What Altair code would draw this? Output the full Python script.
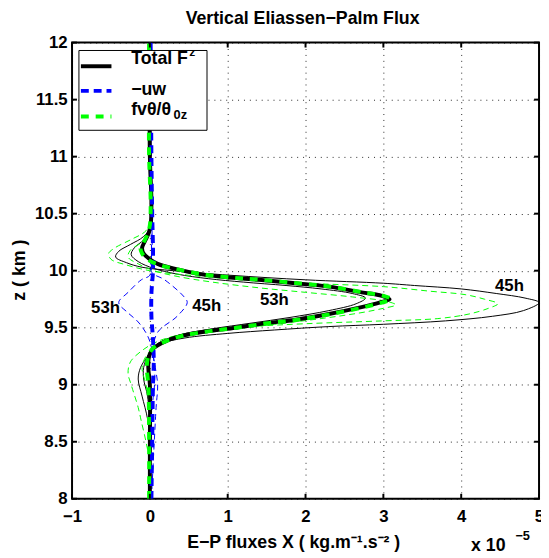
import altair as alt
import pandas as pd

W, H = 474, 463
FONT = "Liberation Sans"

# ---------------- data (x in units of 1e-5 kg m^-1 s^-2, z in km) ----------------
tot_z = [8.0, 8.5, 9.0, 9.15, 9.25, 9.32, 9.38, 9.43, 9.47, 9.50, 9.54, 9.57, 9.62, 9.68, 9.72, 9.75,
         9.78, 9.81, 9.86, 9.89, 9.92, 9.94, 9.97, 10.02, 10.06, 10.10, 10.15, 10.2, 10.25, 10.32, 10.4, 10.6, 11.0, 12.0]
tot_x = [0.0, 0.0, 0.0, -0.02, -0.01, 0.05, 0.2, 0.42, 0.75, 1.1, 1.5, 1.87, 2.3, 2.72, 2.95, 3.08,
         2.98, 2.72, 2.3, 1.87, 1.4, 1.03, 0.65, 0.3, 0.1, 0.0, -0.08, -0.1, -0.07, -0.02, 0.01, 0.02, 0.0, 0.0]

fv_z = [8.0, 8.5, 9.0, 9.15, 9.25, 9.32, 9.38, 9.43, 9.47, 9.50, 9.54, 9.57, 9.62, 9.68, 9.72, 9.75,
        9.78, 9.81, 9.86, 9.89, 9.92, 9.94, 9.97, 10.02, 10.06, 10.10, 10.15, 10.2, 10.25, 10.32, 10.4, 10.6, 11.0, 12.0]
fv_x = [-0.01, -0.01, -0.02, -0.04, -0.02, 0.04, 0.2, 0.43, 0.77, 1.12, 1.52, 1.9, 2.33, 2.75, 2.98, 3.1,
        3.0, 2.74, 2.32, 1.9, 1.42, 1.05, 0.66, 0.3, 0.08, -0.03, -0.1, -0.12, -0.08, -0.03, 0.0, 0.01, -0.01, -0.01]

uw_z = [8.0, 8.5, 9.0, 9.2, 9.4, 9.6, 9.8, 10.0, 10.2, 10.5, 11.0, 12.0]
uw_x = [0.02, 0.03, 0.04, 0.05, 0.04, 0.02, 0.02, 0.04, 0.04, 0.03, 0.02, 0.01]

tot45_z = [8.0, 8.5, 8.7, 8.9, 9.05, 9.15, 9.23, 9.3, 9.36, 9.41, 9.45, 9.48, 9.51, 9.53, 9.56, 9.6, 9.65,
           9.72, 9.76, 9.8, 9.84, 9.87, 9.89, 9.92, 9.96, 10.0, 10.03, 10.07, 10.12, 10.17, 10.23, 10.3, 10.4, 10.6, 11.0, 12.0]
tot45_x = [0.0, 0.0, -0.03, -0.1, -0.15, -0.12, -0.05, 0.03, 0.15, 0.45, 1.0, 1.6, 2.3, 3.0, 3.8, 4.4, 4.8,
           5.0, 4.82, 4.45, 4.0, 3.4, 3.0, 2.0, 1.03, 0.3, -0.1, -0.3, -0.44, -0.4, -0.25, -0.08, 0.02, 0.02, 0.0, 0.0]

tot53_z = [8.0, 8.6, 8.9, 9.05, 9.15, 9.25, 9.32, 9.38, 9.44, 9.49, 9.54, 9.59, 9.65, 9.71, 9.76, 9.80,
           9.84, 9.87, 9.90, 9.93, 9.97, 10.02, 10.08, 10.14, 10.2, 10.27, 10.35, 10.5, 11.0, 12.0]
tot53_x = [0.0, 0.0, -0.03, -0.08, -0.08, -0.03, 0.03, 0.15, 0.4, 0.8, 1.3, 1.8, 2.3, 2.65, 2.77, 2.6,
           2.2, 1.75, 1.2, 0.75, 0.35, 0.05, -0.15, -0.24, -0.2, -0.08, 0.0, 0.03, 0.0, 0.0]

fv45_z = [8.0, 8.3, 8.5, 8.68, 8.8, 9.0, 9.1, 9.2, 9.3, 9.38, 9.44, 9.48, 9.51, 9.535, 9.56, 9.58, 9.62, 9.67,
          9.71, 9.75, 9.79, 9.82, 9.86, 9.89, 9.92, 9.96, 10.0, 10.05, 10.1, 10.15, 10.2, 10.27, 10.35, 10.45, 11.0, 12.0]
fv45_x = [0.0, 0.0, -0.05, -0.11, -0.15, -0.24, -0.28, -0.25, -0.1, 0.1, 0.4, 0.8, 1.3, 2.0, 3.0, 3.7, 4.1, 4.35,
          4.47, 4.3, 4.05, 3.6, 3.0, 2.0, 1.2, 0.5, 0.0, -0.3, -0.5, -0.53, -0.45, -0.25, -0.05, 0.02, 0.0, 0.0]

fv53_z = [8.0, 8.8, 9.0, 9.15, 9.25, 9.32, 9.38, 9.43, 9.48, 9.53, 9.58, 9.63, 9.67, 9.70, 9.73, 9.77,
          9.81, 9.85, 9.9, 9.95, 10.0, 10.06, 10.12, 10.18, 10.25, 10.33, 10.5, 11.0, 12.0]
fv53_x = [0.0, 0.0, -0.05, -0.1, -0.05, 0.05, 0.2, 0.5, 1.0, 1.6, 2.2, 2.7, 3.0, 3.16, 3.05, 2.6,
          2.0, 1.4, 0.8, 0.35, 0.05, -0.15, -0.28, -0.25, -0.1, 0.0, 0.03, 0.0, 0.0]

uw45_z = [8.0, 8.8, 9.0, 9.15, 9.3, 9.46, 9.6, 9.72, 9.77, 9.92, 9.99, 10.2, 10.6, 12.0]
uw45_x = [0.02, 0.08, 0.1, 0.07, 0.04, 0.1, 0.35, 0.48, 0.44, 0.19, 0.02, 0.03, 0.02, 0.01]

uw53_z = [8.0, 8.8, 9.0, 9.15, 9.3, 9.43, 9.55, 9.63, 9.72, 9.81, 9.92, 9.96, 10.1, 10.6, 12.0]
uw53_x = [0.0, 0.03, 0.06, 0.06, 0.03, -0.03, -0.15, -0.28, -0.4, -0.28, -0.11, 0.0, 0.02, 0.01, 0.0]

x_ticks = [-1, 0, 1, 2, 3, 4, 5]
y_ticks = [8, 8.5, 9, 9.5, 10, 10.5, 11, 11.5, 12]

lab_text = ["45h", "53h", "53h", "45h"]
lab_x = [4.62, 1.6, -0.57, 0.73]
lab_z = [9.866, 9.745, 9.676, 9.69]


def curve(name, zs, xs):
    return pd.DataFrame({"curve": name, "z": zs, "x": xs, "i": list(range(len(zs)))})


thin_black = pd.concat([curve("tot45", tot45_z, tot45_x), curve("tot53", tot53_z, tot53_x)])
thin_green = pd.concat([curve("fv45", fv45_z, fv45_x), curve("fv53", fv53_z, fv53_x)])
thin_blue = pd.concat([curve("uw45", uw45_z, uw45_x), curve("uw53", uw53_z, uw53_x)])
thick_black = curve("tot", tot_z, tot_x)
thick_green = curve("fv", fv_z, fv_x)
thick_blue = curve("uw", uw_z, uw_x)

xs = alt.Scale(domain=[-1, 5], nice=False, zero=False)
ys = alt.Scale(domain=[8, 12], nice=False, zero=False)

common_axis = dict(title=None, grid=True, ticks=False, tickSize=0, domain=False,
                   labelFont=FONT, labelFontWeight="bold", labelFontSize=17, labelColor="black",
                   gridColor="black", gridDash=[1, 5], gridWidth=1, gridOpacity=0.85,
                   labelFlush=False, labelOverlap=False)
xaxis = alt.Axis(values=x_ticks, format="d", labelPadding=10, **common_axis)
yaxis = alt.Axis(values=y_ticks, format="~g", labelPadding=5, **common_axis)

X = lambda: alt.X("x:Q", scale=xs, axis=xaxis)
Y = lambda: alt.Y("z:Q", scale=ys, axis=yaxis)


def lines(df, color, width, dash=None):
    kw = dict(color=color, strokeWidth=width, interpolate="catmull-rom", clip=True)
    if dash:
        kw["strokeDash"] = dash
    return alt.Chart(df).mark_line(**kw).encode(x=X(), y=Y(), detail="curve:N", order="i:Q")


l_thin_black = lines(thin_black, "black", 1)
l_thin_green = lines(thin_green, "#00ff00", 1, [6, 4])
l_thin_blue = lines(thin_blue, "#0000ff", 1, [6, 4])
l_thick_black = lines(thick_black, "black", 4)
l_thick_blue = lines(thick_blue, "#0000ff", 4, [8, 5])
l_thick_green = lines(thick_green, "#00ff00", 4, [8, 7])

# inward ticks (MATLAB box style)
xt = pd.DataFrame({"x": x_ticks})
yt = pd.DataFrame({"z": y_ticks})
tick_bottom = alt.Chart(xt).mark_rule(color="black", strokeWidth=2).encode(
    x=X(), y=alt.value(H - 5), y2=alt.value(H))
tick_top = alt.Chart(xt).mark_rule(color="black", strokeWidth=2).encode(
    x=X(), y=alt.value(0), y2=alt.value(5))
tick_left = alt.Chart(yt).mark_rule(color="black", strokeWidth=2).encode(
    y=Y(), x=alt.value(0), x2=alt.value(5))
tick_right = alt.Chart(yt).mark_rule(color="black", strokeWidth=2).encode(
    y=Y(), x=alt.value(W - 5), x2=alt.value(W))

labels = alt.Chart(pd.DataFrame({"t": lab_text, "x": lab_x, "z": lab_z})).mark_text(
    font=FONT, fontWeight="bold", fontSize=17, color="black", align="center", baseline="middle"
).encode(x=X(), y=Y(), text="t:N")

one = alt.Data(values=[{}])

legend_box = alt.Chart(one).mark_rect(fill="white", stroke="black", strokeWidth=1).encode(
    x=alt.value(7), x2=alt.value(137), y=alt.value(8), y2=alt.value(89))
leg_black = alt.Chart(one).mark_rule(color="black", strokeWidth=4).encode(
    x=alt.value(9), x2=alt.value(40), y=alt.value(24))
leg_blue = alt.Chart(one).mark_rule(color="#0000ff", strokeWidth=4, strokeDash=[8, 5]).encode(
    x=alt.value(9), x2=alt.value(40), y=alt.value(49))
leg_green = alt.Chart(one).mark_rule(color="#00ff00", strokeWidth=4, strokeDash=[8, 7]).encode(
    x=alt.value(9), x2=alt.value(40), y=alt.value(75))


def txt(s, x, y, size=17, align="left", baseline="alphabetic", angle=0, weight="bold"):
    kw = dict(font=FONT, fontWeight=weight, fontSize=size, color="black", align=align, baseline=baseline)
    if angle:
        kw["angle"] = angle
    return alt.Chart(one).mark_text(**kw).encode(x=alt.value(x), y=alt.value(y), text=alt.value(s))


texts = [
    txt("Total F", 60, 22, size=18),
    txt("z", 119, 14, size=12),
    txt("\u2212uw", 60, 53, size=18),
    txt("fv\u03b8/\u03b8", 60, 73, size=18),
    txt("0z", 103, 78, size=13),
    txt("Vertical Eliassen\u2212Palm Flux", 234, -19, size=18, align="center"),
    txt("z ( km )", -53, 231, size=18, align="center", baseline="middle", angle=270),
    txt("E\u2212P fluxes X ( kg.m\u207b\u00b9.s\u207b\u00b2 )", 225, 513, size=18, align="center"),
    txt("x 10", 405, 516, size=18),
    txt("\u22125", 450, 505, size=13),
]

chart = alt.layer(
    l_thin_black, l_thin_green, l_thin_blue, l_thick_black, l_thick_blue, l_thick_green,
    tick_bottom, tick_top, tick_left, tick_right, labels,
    legend_box, leg_black, leg_blue, leg_green, *texts,
).properties(
    width=W, height=H, autosize="none", background="white",
    padding={"left": 65, "top": 31, "right": 2, "bottom": 56},
).configure_view(stroke="black", strokeWidth=2)

chart.save("out.html", embed_options={"renderer": "svg", "actions": False})
